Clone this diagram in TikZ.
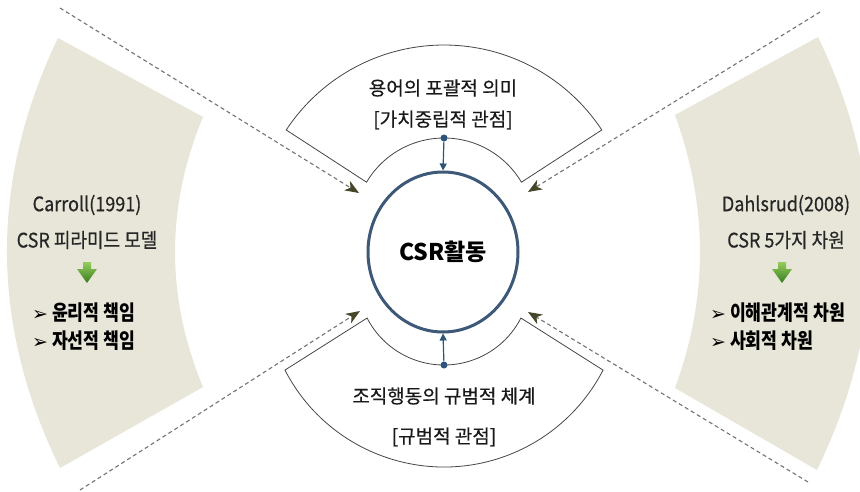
\documentclass[tikz,border=0pt]{standalone}
\usepackage{fontspec}
\setmainfont{Noto Sans CJK KR}
\newfontfamily\condfont[FakeStretch=0.9,FakeBold=0.5]{Noto Sans CJK KR}
\newfontfamily\bulfont[FakeStretch=0.82]{Noto Sans CJK KR}
\newfontfamily\fanfont[FakeBold=0.4]{Noto Sans CJK KR}
\newfontfamily\symfont{DejaVu Sans}
\usetikzlibrary{arrows.meta,shapes.geometric,calc}
\definecolor{bandcol}{RGB}{232,230,216}
\definecolor{ringcol}{RGB}{62,88,120}
\definecolor{dotblue}{RGB}{46,84,124}
\definecolor{dashgrey}{RGB}{115,115,115}
\definecolor{tipolive}{RGB}{70,70,40}
\definecolor{fanedge}{RGB}{70,70,70}
\definecolor{greenlight}{RGB}{150,205,90}
\definecolor{greendark}{RGB}{55,125,35}
\tikzset{
  bandfill/.style={fill=bandcol, draw=none},
  fanshape/.style={draw=fanedge, line width=0.8pt, fill=white},
  feed/.style={draw=dashgrey, line width=1.1pt, dash pattern=on 4pt off 3pt,
    -{Stealth[length=14pt,width=11pt,inset=4pt,color=tipolive]}},
  hub/.style={ellipse, draw=ringcol, line width=3pt, minimum width=150pt,
    minimum height=160pt, inner sep=0pt, fill=white,
    font=\bfseries\fontsize{23}{26}\selectfont},
  link/.style={draw=dotblue, line width=1.2pt, -{Triangle[length=7pt,width=7pt]}},
  dotnode/.style={circle, fill=dotblue, inner sep=0pt, minimum size=7pt},
  fantext/.style={font=\fanfont\fontsize{19}{22}\selectfont, text=black!90},
  bandtitle/.style={font=\condfont\fontsize{20}{24}\selectfont, text=black!85},
  bulletline/.style={font=\bulfont\bfseries\fontsize{21}{24}\selectfont, anchor=west, inner sep=0pt},
  greenarrow/.pic={
    \shade[top color=greenlight, bottom color=greendark]
      (-4,-12) -- (4,-12) -- (4,-5) -- (10,-5) -- (0,9) -- (-10,-5) -- (-4,-5) -- cycle;
  }
}
\newcommand{\bul}{{\symfont\fontsize{19}{20}\selectfont ➢}\ }
\begin{document}
\begin{tikzpicture}[x=1pt,y=-1pt]
\useasboundingbox (0,0) rectangle (860,491);
\fill[white] (0,0) rectangle (860,491);
\clip (0,0) rectangle (860,491);

% side bands
\path[bandfill] (58,38) .. controls (-10.7,181.3) and (-10,324.7) .. (60,468)
  -- (203,387) .. controls (165.7,297) and (165.7,207) .. (203,117) -- cycle;
\path[bandfill] (818,37) .. controls (887.7,180.7) and (887.3,325) .. (817,470)
  -- (675,388) .. controls (708.3,297.7) and (708.3,206.7) .. (675,115) -- cycle;

% band texts
\node[bandtitle] (carroll) at (87,205) {Carroll(1991)};
\node[bandtitle] (pyramid) at (87,240) {CSR 피라미드 모델};
\pic at (87,274) {greenarrow};
\node[bulletline] (ethic) at (32,313) {\bul 윤리적 책임};
\node[bulletline] (phil) at (32,341) {\bul 자선적 책임};

\node[bandtitle] (dahl) at (786,205) {Dahlsrud(2008)};
\node[bandtitle] (five) at (786,240) {CSR 5가지 차원};
\pic at (782,274) {greenarrow};
\node[bulletline] (stake) at (710,313) {\bul 이해관계적 차원};
\node[bulletline] (social) at (710,341) {\bul 사회적 차원};

% central hub
\node[hub] (csr) at (443,252) {CSR활동};

% dashed feeds
\coordinate (tlS) at (60,8);   \coordinate (tlE) at (359,193);
\coordinate (trS) at (820,12); \coordinate (trE) at (528,192);
\coordinate (blS) at (80,490); \coordinate (blE) at (360,311);
\coordinate (brS) at (808,482);\coordinate (brE) at (528,312);
\draw[feed] (tlS) -- (tlE);
\draw[feed] (trS) -- (trE);
\draw[feed] (blS) -- (blE);
\draw[feed] (brS) -- (brE);

% top fan (y axis points down: negative angles open upward)
\coordinate (tO) at (444,234);
\coordinate (tI) at (444,228);
\draw[fanshape] (tO) ++(-33.4:189) arc[start angle=-33.4, end angle=-146.6, radius=189]
  -- ($(tI)+(-149.4:90)$) arc[start angle=-149.4, end angle=-30.6, radius=90] -- cycle;
\node[fantext] (meaning) at (443,88) {용어의 포괄적 의미};
\node[fantext] (neutral) at (443,120) {[가치중립적 관점]};

% bottom fan
\coordinate (bO) at (444,288);
\coordinate (bI) at (444,278.5);
\draw[fanshape] (bO) ++(152.7:179) arc[start angle=152.7, end angle=27.3, radius=179]
  -- ($(bI)+(27.2:86.5)$) arc[start angle=27.2, end angle=152.8, radius=86.5] -- cycle;
\node[fantext] (norm) at (444,396) {조직행동의 규범적 체계};
\node[fantext] (normview) at (444,437) {[규범적 관점]};

% dots and links
\node[dotnode] (topdot) at (444,138) {};
\node[dotnode] (botdot) at (444,365) {};
\draw[link] (topdot) -- (csr.north);
\draw[link] (botdot) -- (csr.south);
\end{tikzpicture}
\end{document}
